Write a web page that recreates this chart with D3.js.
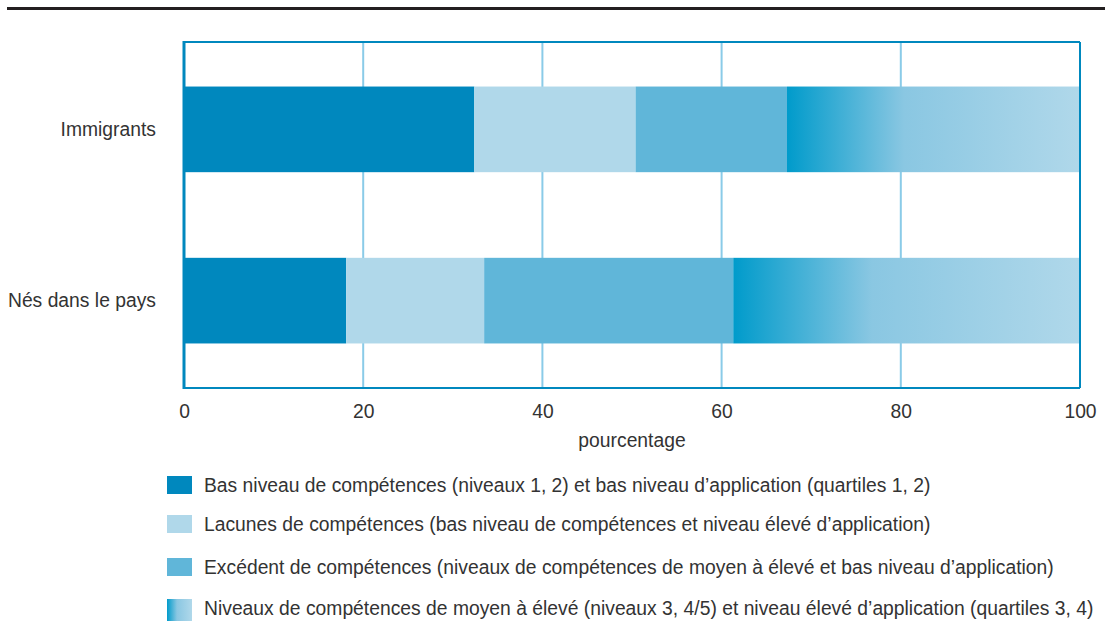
<!DOCTYPE html>
<html lang="fr">
<head>
<meta charset="UTF-8" />
<title>Compétences et application</title>
<script src="https://cdn.jsdelivr.net/npm/d3@7"></script>
<style>
	body { margin: 0; background: #fff; }
	text { font-family: "Liberation Sans", Arial, sans-serif; fill: #333; }
</style>
</head>
<body>
<svg id="vis" width="1105" height="624"></svg>
<script>
	// Données
	var categories = ["Immigrants", "Nés dans le pays"];
	var series = [
		"Bas niveau de compétences (niveaux 1, 2) et bas niveau d’application (quartiles 1, 2)",
		"Lacunes de compétences (bas niveau de compétences et niveau élevé d’application)",
		"Excédent de compétences (niveaux de compétences de moyen à élevé et bas niveau d’application)",
		"Niveaux de compétences de moyen à élevé (niveaux 3, 4/5) et niveau élevé d’application (quartiles 3, 4)"
	];
	var basNiveau = [32.4, 18.1];
	var lacunes = [18.0, 15.4];
	var excedent = [16.9, 27.8];
	var moyenEleve = [32.7, 38.7];
	var xTicks = [0, 20, 40, 60, 80, 100];

	var couleurs = ["#0088be", "#b0d8ea", "#60b6d9", "url(#grad)"];

	var svg = d3.select("#vis");
	var fs = 21, sx = 0.92; // police condensée simulée

	// Dégradé pour la dernière série
	var defs = svg.append("defs");
	var grad = defs.append("linearGradient").attr("id", "grad")
		.attr("x1", "0%").attr("x2", "100%").attr("y1", "0%").attr("y2", "0%");
	grad.append("stop").attr("offset", "0%").attr("stop-color", "#009bcb");
	grad.append("stop").attr("offset", "40%").attr("stop-color", "#8ac7e2");
	grad.append("stop").attr("offset", "100%").attr("stop-color", "#b0d8ea");

	// Filet noir en haut
	svg.append("rect").attr("x", 7).attr("y", 7).attr("width", 1098).attr("height", 3).attr("fill", "#231f20");

	var pLeft = 184, pRight = 1080, pTop = 42, pBottom = 388;

	var x = d3.scaleLinear().domain([0, 100]).range([pLeft, pRight]);
	var y = d3.scaleBand().domain(categories).range([pTop, pBottom]).paddingInner(0.5).paddingOuter(0.26);

	// Grille
	svg.append("g").selectAll("line").data(xTicks.slice(1, -1)).enter().append("line")
		.attr("x1", function (d) { return x(d); }).attr("x2", function (d) { return x(d); })
		.attr("y1", pTop).attr("y2", pBottom)
		.attr("stroke", "#8acbe8").attr("stroke-width", 2);

	// Barres empilées
	var table = categories.map(function (c, i) {
		return { cat: c, v: [basNiveau[i], lacunes[i], excedent[i], moyenEleve[i]] };
	});
	var stack = d3.stack().keys([0, 1, 2, 3]).value(function (d, k) { return d.v[k]; });
	var layers = stack(table);

	svg.append("g").selectAll("g").data(layers).enter().append("g")
		.attr("fill", function (d, i) { return couleurs[i]; })
		.selectAll("rect").data(function (d) { return d; }).enter().append("rect")
		.attr("x", function (d) { return x(d[0]); })
		.attr("width", function (d) { return x(d[1]) - x(d[0]); })
		.attr("y", function (d) { return y(d.data.cat); })
		.attr("height", y.bandwidth());

	// Cadre
	svg.append("line").attr("x1", pLeft).attr("x2", pRight).attr("y1", pTop).attr("y2", pTop)
		.attr("stroke", "#0088be").attr("stroke-width", 2);
	svg.append("line").attr("x1", pLeft).attr("x2", pRight).attr("y1", pBottom).attr("y2", pBottom)
		.attr("stroke", "#0088be").attr("stroke-width", 2);
	svg.append("line").attr("x1", pRight).attr("x2", pRight).attr("y1", pTop).attr("y2", pBottom)
		.attr("stroke", "#0088be").attr("stroke-width", 2);
	svg.append("line").attr("x1", pLeft).attr("x2", pLeft).attr("y1", pTop - 1).attr("y2", pBottom + 1)
		.attr("stroke", "#0088be").attr("stroke-width", 3);

	// Axe X
	var gx = svg.append("g").attr("transform", "translate(0," + pBottom + ")")
		.call(d3.axisBottom(x).tickValues(xTicks).tickSize(0).tickPadding(15));
	gx.select(".domain").remove();
	gx.selectAll(".tick").each(function () {
		var t = d3.select(this);
		t.attr("transform", t.attr("transform") + " scale(" + sx + ",1)");
	});
	gx.selectAll("text").attr("font-size", fs).attr("fill", "#333").attr("font-family", null);

	svg.append("text").attr("transform", "translate(" + x(50) + ",447) scale(" + sx + ",1)")
		.attr("text-anchor", "middle").attr("font-size", fs).text("pourcentage");

	// Axe Y
	var gy = svg.append("g").attr("transform", "translate(" + (pLeft - 28) + ",0)")
		.call(d3.axisLeft(y).tickSize(0).tickPadding(0));
	gy.select(".domain").remove();
	gy.selectAll(".tick").each(function () {
		var t = d3.select(this);
		t.attr("transform", t.attr("transform") + " scale(" + sx + ",1)");
	});
	gy.selectAll("text").attr("font-size", fs).attr("fill", "#333").attr("font-family", null);

	// Légende
	var legY = [476, 515, 558, 599];
	var leg = svg.append("g").selectAll("g").data(series).enter().append("g")
		.attr("transform", function (d, i) { return "translate(167," + legY[i] + ")"; });
	leg.append("rect").attr("width", 25).attr("height", function (d, i) { return i == 3 ? 22 : 18; })
		.attr("fill", function (d, i) { return couleurs[i]; });
	leg.append("text").attr("transform", "translate(37,9) scale(" + sx + ",1)").attr("dy", "0.35em")
		.attr("font-size", fs).text(function (d) { return d; });
</script>
</body>
</html>
